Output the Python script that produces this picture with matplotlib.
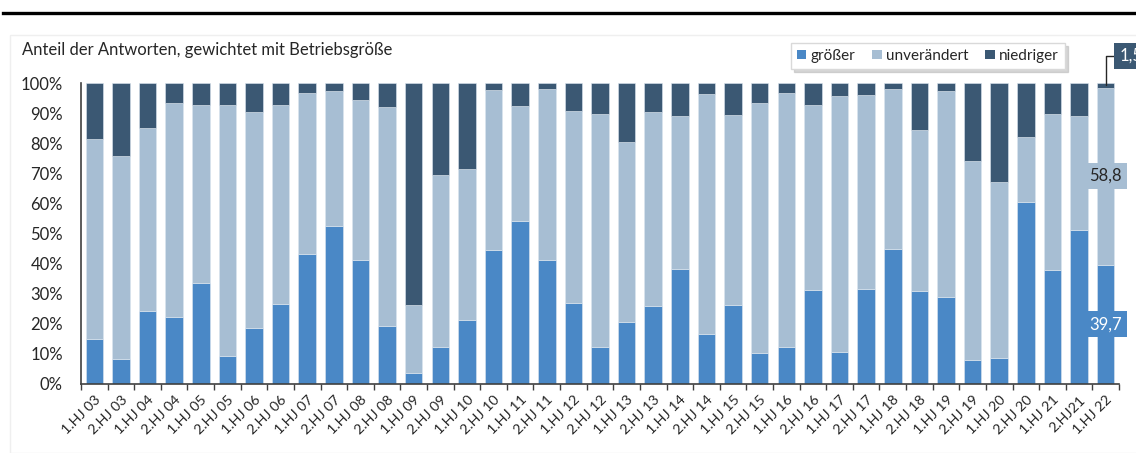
import matplotlib.pyplot as plt
from matplotlib.patches import Patch, Rectangle
from matplotlib.lines import Line2D

plt.rcParams['font.family'] = ['Lato', 'DejaVu Sans']

halbjahre = ['1.HJ 03', '2.HJ 03', '1.HJ 04', '2.HJ 04', '1.HJ 05', '2.HJ 05',
             '1.HJ 06', '2.HJ 06', '1.HJ 07', '2.HJ 07', '1.HJ 08', '2.HJ 08',
             '1.HJ 09', '2.HJ 09', '1.HJ 10', '2.HJ 10', '1.HJ 11', '2.HJ 11',
             '1.HJ 12', '2.HJ 12', '1.HJ 13', '2.HJ 13', '1.HJ 14', '2.HJ 14',
             '1.HJ 15', '2.HJ 15', '1.HJ 16', '2.HJ 16', '1.HJ 17', '2.HJ 17',
             '1.HJ 18', '2.HJ 18', '1.HJ 19', '2.HJ 19', '1.HJ 20', '2.HJ 20',
             '1.HJ 21', '2.HJ21', '1.HJ 22']

groesser = [14.8, 8.4, 24.2, 22.1, 33.4, 9.2, 18.6, 26.6, 43.1, 52.5, 41.2, 19.2,
            3.5, 12.3, 21.3, 44.5, 54.2, 41.2, 26.8, 12.3, 20.7, 25.9, 38.2, 16.7,
            26.3, 10.4, 12.3, 31.2, 10.6, 31.4, 44.9, 31.0, 28.8, 8.1, 8.7, 60.4,
            37.9, 51.0, 39.7]
unveraendert = [66.6, 67.5, 60.9, 71.4, 59.3, 83.5, 71.6, 66.1, 53.6, 44.9, 53.3, 72.8,
                22.8, 57.3, 50.1, 53.2, 38.1, 56.7, 63.8, 77.3, 59.6, 64.5, 50.7, 79.5,
                63.0, 83.0, 84.3, 61.5, 85.0, 64.6, 53.0, 53.4, 68.7, 66.0, 58.4, 21.8,
                51.7, 38.2, 58.8]
niedriger = [18.6, 24.1, 14.9, 6.5, 7.3, 7.3, 9.8, 7.3, 3.3, 2.6, 5.5, 8.0,
             73.7, 30.4, 28.6, 2.3, 7.7, 2.1, 9.4, 10.4, 19.7, 9.6, 11.1, 3.8,
             10.7, 6.6, 3.4, 7.3, 4.4, 4.0, 2.1, 15.6, 2.5, 25.9, 32.9, 17.8,
             10.4, 10.8, 1.5]

c_gr = '#4A88C6'
c_un = '#A7BED3'
c_ni = '#3B5873'
txt = '#262626'

fig = plt.figure(figsize=(11.36, 4.53), dpi=100)

# frame line on top and faint chart-area border
fig.add_artist(Line2D([0.003, 1.0], [1 - 13 / 453, 1 - 13 / 453], color='black', lw=2.4))
fig.add_artist(Rectangle((10 / 1136, 0.0), 1.2, 1 - 35 / 453, fill=False,
                         edgecolor='#EFEFEF', lw=1.0))

ax = fig.add_axes([81 / 1136, 69 / 453, 1038 / 1136, 301 / 453])

x = range(len(halbjahre))
w = 0.66
ax.bar(x, groesser, w, color=c_gr, edgecolor='#DCE6F0', lw=0.4, label='größer')
ax.bar(x, unveraendert, w, bottom=groesser, color=c_un, edgecolor='#DCE6F0', lw=0.4,
       label='unverändert')
base = [g + u for g, u in zip(groesser, unveraendert)]
ax.bar(x, niedriger, w, bottom=base, color=c_ni, edgecolor='#DCE6F0', lw=0.4,
       label='niedriger')

ax.set_xlim(-0.5, len(halbjahre) - 0.5)
ax.set_ylim(0, 100)

ax.set_yticks(range(0, 101, 10))
ax.set_yticklabels([f'{v}%' for v in range(0, 101, 10)], fontsize=12, color=txt)
ax.tick_params(axis='y', length=0, pad=13)

# category ticks between bars, labels under the bars
ax.set_xticks([i - 0.5 for i in range(len(halbjahre) + 1)], minor=False)
ax.set_xticklabels([''] * (len(halbjahre) + 1))
ax.set_xticks(list(x), minor=True)
ax.set_xticklabels(halbjahre, minor=True, rotation=45, ha='right', va='top',
                   rotation_mode='anchor', fontsize=10.3, color=txt)
ax.tick_params(axis='x', which='major', length=4, width=1, color='#404040', direction='out')
ax.tick_params(axis='x', which='minor', length=0, pad=7)

for s in ['top', 'right']:
    ax.spines[s].set_visible(False)
ax.spines['left'].set_color('#404040')
ax.spines['bottom'].set_color('#404040')
ax.spines['left'].set_linewidth(1.2)
ax.spines['bottom'].set_linewidth(1.2)

fig.text(22 / 1136, 1 - 50 / 453, 'Anteil der Antworten, gewichtet mit Betriebsgröße',
         fontsize=12, color=txt, va='center', ha='left')

handles = [Patch(facecolor=c_gr), Patch(facecolor=c_un), Patch(facecolor=c_ni)]
leg = fig.legend(handles, ['größer', 'unverändert', 'niedriger'], ncol=3,
                 loc='center', bbox_to_anchor=(928 / 1136, 1 - 56 / 453),
                 fontsize=11, frameon=True, fancybox=False, edgecolor='#D9D9D9',
                 shadow={'color': '#BBBBBB', 'alpha': 0.6},
                 handlelength=0.6, handleheight=0.6, handletextpad=0.3,
                 columnspacing=1.1, borderpad=0.4)
for t in leg.get_texts():
    t.set_color(txt)

# value labels on the latest half-year
i = len(halbjahre) - 1
fmt = lambda v: f'{v:.1f}'.replace('.', ',')
ax.text(i, groesser[i] / 2, fmt(groesser[i]), ha='center', va='center', fontsize=12,
        color='white', bbox=dict(boxstyle='square,pad=0.3', fc=c_gr, ec='none'))
ax.text(i, groesser[i] + unveraendert[i] / 2, fmt(unveraendert[i]), ha='center',
        va='center', fontsize=12, color=txt,
        bbox=dict(boxstyle='square,pad=0.3', fc=c_un, ec='none'))
ax.annotate(fmt(niedriger[i]), xy=(i, base[i] + niedriger[i] / 2), xytext=(i + 0.95, 109),
            ha='center', va='center', fontsize=12, color='white', annotation_clip=False,
            bbox=dict(boxstyle='square,pad=0.3', fc=c_ni, ec='none'),
            arrowprops=dict(arrowstyle='-', color='#262626', lw=1,
                            connectionstyle='angle,angleA=0,angleB=90,rad=0',
                            shrinkA=0, shrinkB=0))

fig.savefig('out.png', dpi=100)
